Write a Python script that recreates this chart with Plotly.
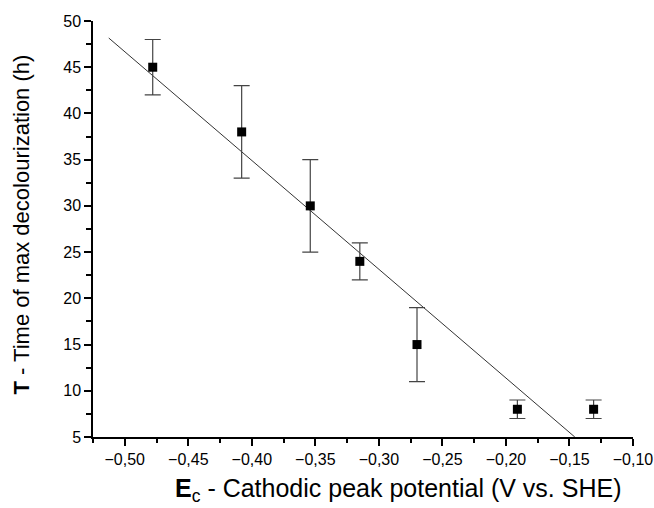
import plotly.graph_objects as go

# Data
ec_potential = [-0.478, -0.408, -0.354, -0.315, -0.270, -0.191, -0.131]
time_max = [45, 38, 30, 24, 15, 8, 8]
time_err = [3, 5, 5, 2, 4, 1, 1]

# Linear fit line endpoints
fit_x = [-0.5126, -0.1458]
fit_y = [48.16, 5.0]

x_tick_vals = [-0.50, -0.45, -0.40, -0.35, -0.30, -0.25, -0.20, -0.15, -0.10]
y_tick_vals = [5, 10, 15, 20, 25, 30, 35, 40, 45, 50]

x_title = "<b>E</b><sub>c</sub> - Cathodic peak potential (V vs. SHE)"
y_title = "<b>T</b> - Time of max decolourization (h)"

fig = go.Figure()

fig.add_trace(go.Scatter(
    x=fit_x, y=fit_y, mode="lines",
    line=dict(color="#333333", width=1),
    showlegend=False, hoverinfo="skip",
))

fig.add_trace(go.Scatter(
    x=ec_potential, y=time_max, mode="markers",
    marker=dict(symbol="square", size=9, color="black"),
    error_y=dict(type="data", array=time_err, visible=True,
                 color="#444444", thickness=1.2, width=8),
    showlegend=False,
))

font_family = "Liberation Sans, Arial, sans-serif"

fig.update_layout(
    width=654, height=508,
    margin=dict(l=93, r=21, t=21, b=71),
    plot_bgcolor="white", paper_bgcolor="white",
    separators=",.",
    font=dict(family=font_family, size=16, color="black"),
    xaxis=dict(
        range=[-0.525, -0.10],
        tickvals=x_tick_vals,
        tickformat=".2f",
        ticks="outside", ticklen=7, tickwidth=1.5, tickcolor="black",
        minor=dict(ticks="outside", ticklen=4, tickwidth=1.5, tickcolor="black",
                   dtick=0.025, tick0=-0.50),
        showline=True, linecolor="black", linewidth=1.5,
        showgrid=False, zeroline=False,
        automargin=False,
        tickfont=dict(size=16),
    ),
    yaxis=dict(
        range=[5, 50],
        tickvals=y_tick_vals,
        ticks="outside", ticklen=7, tickwidth=1.5, tickcolor="black",
        minor=dict(ticks="outside", ticklen=5, tickwidth=1.5, tickcolor="black",
                   dtick=2.5, tick0=5),
        showline=True, linecolor="black", linewidth=1.5,
        showgrid=False, zeroline=False,
        automargin=False,
        tickfont=dict(size=16),
    ),
    annotations=[
        dict(text=x_title, xref="paper", yref="paper", x=0.565, y=-0.128,
             xanchor="center", yanchor="middle", showarrow=False,
             font=dict(size=25)),
        dict(text=y_title, xref="paper", yref="paper", x=-0.132, y=0.51,
             xanchor="center", yanchor="middle", showarrow=False,
             textangle=-90, font=dict(size=22)),
    ],
)

fig.write_html(
    "out.html",
    config={"displayModeBar": False},
    post_script="document.body.style.margin='0';document.body.style.padding='0';"
                "document.body.style.overflow='hidden';",
)
